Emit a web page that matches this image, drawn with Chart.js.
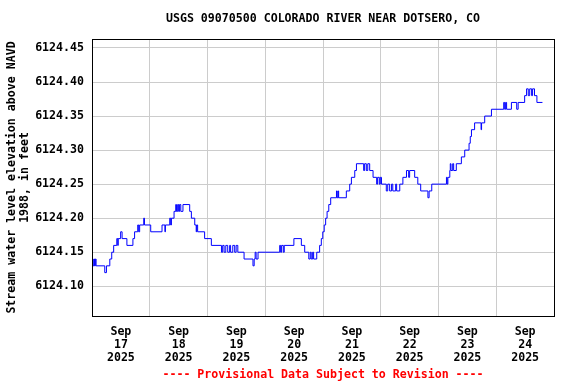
<!DOCTYPE html>
<html lang="en">
<head>
<meta charset="UTF-8">
<title>USGS 09070500 COLORADO RIVER NEAR DOTSERO, CO</title>
<script src="https://cdn.jsdelivr.net/npm/chart.js@4.4.1/dist/chart.umd.min.js"></script>
<style>
    body { margin: 0; background: #fff; }
    #wrap { width: 576px; height: 384px; }
</style>
</head>
<body>
<div id="wrap"><canvas id="gage"></canvas></div>
<script>
// hours since Sep 17 00:00 (each value holds until the next one)
const hours = [0, 0.5, 0.9, 1.1, 1.4, 1.7, 5.3, 6.0, 7.4, 8.2, 9.0, 10.3, 10.7, 10.9, 11.9, 12.5, 14.5,
    17.0, 17.7, 19.0, 19.4, 19.8, 21.5, 21.8, 24.4, 29.1, 30.3, 30.5, 32.3, 32.7, 33.0, 34.1, 34.8,
    35.1, 35.6, 36.0, 36.4, 36.9, 37.8, 40.6, 41.3, 42.7, 43.3, 43.5, 43.9, 46.8, 49.6, 53.8, 54.3,
    54.9, 55.6, 56.4, 57.2, 57.6, 58.5, 59.3, 59.9, 60.6, 63.2, 66.9, 67.4, 67.8, 68.2, 69.0, 78.0,
    78.4, 78.8, 79.5, 79.9, 83.9, 87.0, 88.4, 90.1, 90.7, 91.1, 91.7, 92.1, 93.4, 94.6, 95.3, 95.9,
    96.5, 97.1, 97.7, 98.4, 99.2, 101.6, 101.9, 102.3, 102.5, 105.7, 107.1, 107.8, 109.2, 109.9,
    112.9, 113.3, 114.0, 114.6, 115.4, 116.8, 118.3, 118.7, 119.4, 119.8, 120.3, 122.3, 122.9,
    123.7, 124.5, 125.0, 126.2, 126.6, 127.9, 129.2, 130.7, 131.6, 132.0, 134.1, 135.4, 136.6,
    139.6, 140.1, 141.2, 147.3, 147.6, 147.9, 148.7, 148.9, 149.2, 149.9, 150.3, 151.4, 153.5,
    154.9, 156.7, 157.2, 157.7, 159.0, 161.7, 161.9, 163.2, 166.0, 171.1, 171.5, 171.9, 172.3,
    174.3, 176.5, 177.1, 179.8, 180.6, 181.3, 181.9, 182.7, 183.1, 183.9, 184.9, 187.2];

const elevation = [6124.14, 6124.13, 6124.14, 6124.13, 6124.14, 6124.13, 6124.12, 6124.13, 6124.14,
    6124.15, 6124.16, 6124.17, 6124.16, 6124.17, 6124.18, 6124.17, 6124.16, 6124.17, 6124.18,
    6124.19, 6124.18, 6124.19, 6124.20, 6124.19, 6124.18, 6124.19, 6124.18, 6124.19, 6124.20,
    6124.19, 6124.20, 6124.21, 6124.22, 6124.21, 6124.22, 6124.21, 6124.22, 6124.21, 6124.22,
    6124.21, 6124.20, 6124.19, 6124.18, 6124.19, 6124.18, 6124.17, 6124.16, 6124.15, 6124.16,
    6124.15, 6124.16, 6124.15, 6124.16, 6124.15, 6124.16, 6124.15, 6124.16, 6124.15, 6124.14,
    6124.13, 6124.14, 6124.15, 6124.14, 6124.15, 6124.16, 6124.15, 6124.16, 6124.15, 6124.16,
    6124.17, 6124.16, 6124.15, 6124.14, 6124.15, 6124.14, 6124.15, 6124.14, 6124.15, 6124.16,
    6124.17, 6124.18, 6124.19, 6124.20, 6124.21, 6124.22, 6124.23, 6124.24, 6124.23, 6124.24,
    6124.23, 6124.24, 6124.25, 6124.26, 6124.27, 6124.28, 6124.27, 6124.28, 6124.27, 6124.28,
    6124.27, 6124.26, 6124.25, 6124.26, 6124.25, 6124.26, 6124.25, 6124.24, 6124.25, 6124.24,
    6124.25, 6124.24, 6124.25, 6124.24, 6124.25, 6124.26, 6124.27, 6124.26, 6124.27, 6124.26,
    6124.25, 6124.24, 6124.23, 6124.24, 6124.25, 6124.26, 6124.25, 6124.26, 6124.27, 6124.28,
    6124.27, 6124.28, 6124.27, 6124.28, 6124.29, 6124.30, 6124.31, 6124.32, 6124.33, 6124.34,
    6124.33, 6124.34, 6124.35, 6124.36, 6124.37, 6124.36, 6124.37, 6124.36, 6124.37, 6124.36,
    6124.37, 6124.38, 6124.39, 6124.38, 6124.39, 6124.38, 6124.39, 6124.38, 6124.37, 6124.37];

const yTicks = [6124.10, 6124.15, 6124.20, 6124.25, 6124.30, 6124.35, 6124.40, 6124.45];
const dayLabels = ['17', '18', '19', '20', '21', '22', '23', '24'];
const monthLabel = 'Sep';
const yearLabel = '2025';

const mono = 'DejaVu Sans Mono';
const fnt = { family: mono, size: 11.6, weight: 'bold', lineHeight: 1.13 };

// black frame round the plot
const frame = {
    id: 'frame',
    afterDraw(chart) {
        const a = chart.chartArea, c = chart.ctx;
        c.save();
        c.strokeStyle = '#000';
        c.lineWidth = 1;
        c.strokeRect(Math.round(a.left) + 0.5, Math.round(a.top) + 0.5,
            Math.round(a.right - a.left), Math.round(a.bottom - a.top));
        c.restore();
    }
};

new Chart(document.getElementById('gage'), {
    type: 'line',
    data: {
        datasets: [{
            data: hours.map((h, i) => ({ x: h, y: elevation[i] })),
            borderColor: '#0000ff',
            borderWidth: 1,
            pointRadius: 0,
            stepped: 'before',
            fill: false,
            xAxisID: 'x'
        }]
    },
    options: {
        responsive: true,
        maintainAspectRatio: false,
        animation: false,
        layout: { padding: { top: 0, right: 22, bottom: 0, left: 0 } },
        scales: {
            x: {
                type: 'linear', position: 'bottom', min: 0, max: 192,
                ticks: { display: false, stepSize: 24 },
                grid: { color: '#cccccc', drawTicks: false },
                border: { display: false },
                afterFit(s) { s.height = 0; }
            },
            x2: {
                type: 'linear', position: 'bottom', min: 0, max: 192,
                grid: { display: false },
                border: { display: false },
                afterBuildTicks(s) { s.ticks = dayLabels.map((d, i) => ({ value: 12 + 24 * i })); },
                ticks: {
                    autoSkip: false, maxRotation: 0, padding: 1, color: '#000', font: fnt,
                    callback: (v, i) => [monthLabel, dayLabels[i], yearLabel]
                },
                afterFit(s) { s.height = 48.5; }
            },
            y: {
                min: 6124.0563, max: 6124.4632,
                afterBuildTicks(s) { s.ticks = yTicks.map(v => ({ value: v })); },
                grid: { color: '#cccccc', drawTicks: false },
                border: { display: false },
                ticks: { padding: 8, color: '#000', font: fnt, callback: v => v.toFixed(2) },
                title: {
                    display: true,
                    text: ['Stream water level elevation above NAVD', '1988, in feet'],
                    color: '#000', font: fnt, padding: { top: 5.5, bottom: 0 }
                },
                afterFit(s) { s.width = 92; }
            }
        },
        plugins: {
            legend: { display: false },
            tooltip: { enabled: false },
            title: {
                display: true,
                fullSize: false,
                text: 'USGS 09070500 COLORADO RIVER NEAR DOTSERO, CO',
                color: '#000',
                font: { family: mono, size: 11.6, weight: 'bold', lineHeight: 1.25 },
                padding: { top: 12, bottom: 12.5 }
            },
            subtitle: {
                display: true,
                fullSize: false,
                position: 'bottom',
                text: '---- Provisional Data Subject to Revision ----',
                color: '#ff0000',
                font: { family: mono, size: 11.6, weight: 'bold', lineHeight: 1.25 },
                padding: { top: 3, bottom: 2 }
            }
        }
    },
    plugins: [frame]
});
</script>
</body>
</html>
